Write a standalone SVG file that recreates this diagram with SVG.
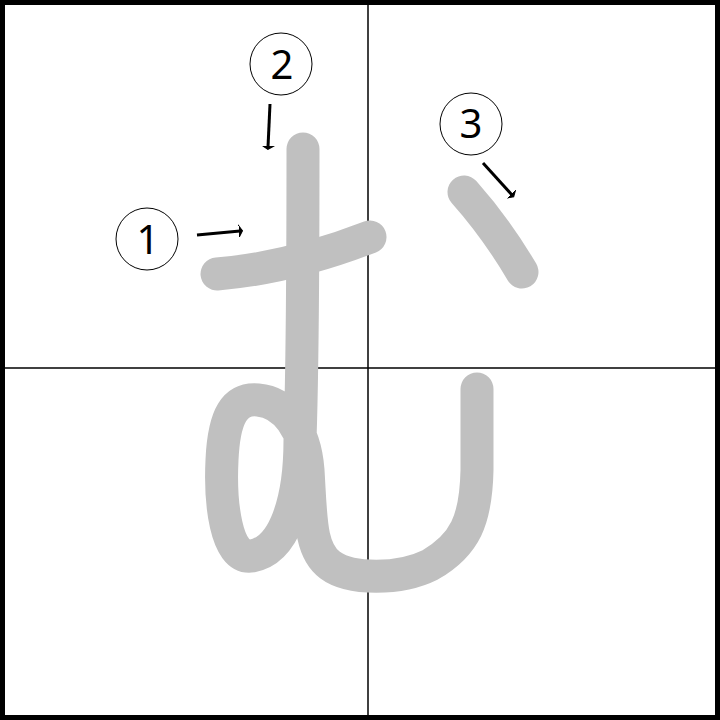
<svg xmlns="http://www.w3.org/2000/svg" width="720" height="720" viewBox="0 0 720 720">
<defs>
<style>
.grid{fill:none;stroke:#000;}
.stroke{fill:none;stroke:#c0c0c0;stroke-width:33;stroke-linecap:round;stroke-linejoin:round;}
.circ{fill:#fff;stroke:#000;stroke-width:1;}
.num{font-family:"Noto Sans","Open Sans","DejaVu Sans",sans-serif;font-size:40px;fill:#000;text-anchor:middle;}
.arrow{fill:none;stroke:#000;stroke-width:3;marker-end:url(#head);}
</style>
<marker id="head" markerUnits="userSpaceOnUse" markerWidth="14" markerHeight="14" refX="1" refY="7" orient="auto" viewBox="0 0 14 14">
<path d="M0,1.5 L3.5,7 L0,12.5 Z" fill="#000" stroke="#000" stroke-width="1"/>
</marker>
</defs>
<rect x="0" y="0" width="720" height="720" fill="#fff"/>
<g id="grid">
<rect class="grid" x="2.5" y="2.5" width="715" height="715" stroke-width="5"/>
<line class="grid" x1="368" y1="0" x2="368" y2="720" stroke-width="1.5"/>
<line class="grid" x1="0" y1="368" x2="720" y2="368" stroke-width="1.5"/>
</g>
<g id="stroke1"><path class="stroke" d="M217,274 Q290,268 370,237"/></g>
<g id="stroke2"><path class="stroke" d="M303,149 C303,250 302,380 300,440 C300,500 285,550 252,556 C225,560 220,500 222,460 C224,415 235,398 258,400 C285,402 305,430 308,470 C311,520 310,550 330,565 C350,580 400,580 430,565 C465,545 476,520 477,470 L477,389"/></g>
<g id="stroke3"><path class="stroke" d="M464,192 Q496,228 522,272"/></g>
<g id="connectors">
<line class="arrow" x1="197" y1="235" x2="240" y2="231"/>
<line class="arrow" x1="270" y1="104" x2="268" y2="147"/>
<line class="arrow" x1="483" y1="163" x2="512" y2="195"/>
</g>
<g id="label1"><circle class="circ" cx="147" cy="239" r="31"/><text class="num" x="148" y="254">1</text></g>
<g id="label2"><circle class="circ" cx="281" cy="64" r="31"/><text class="num" x="282" y="79">2</text></g>
<g id="label3"><circle class="circ" cx="471" cy="124" r="31"/><text class="num" x="471" y="138">3</text></g>
</svg>
